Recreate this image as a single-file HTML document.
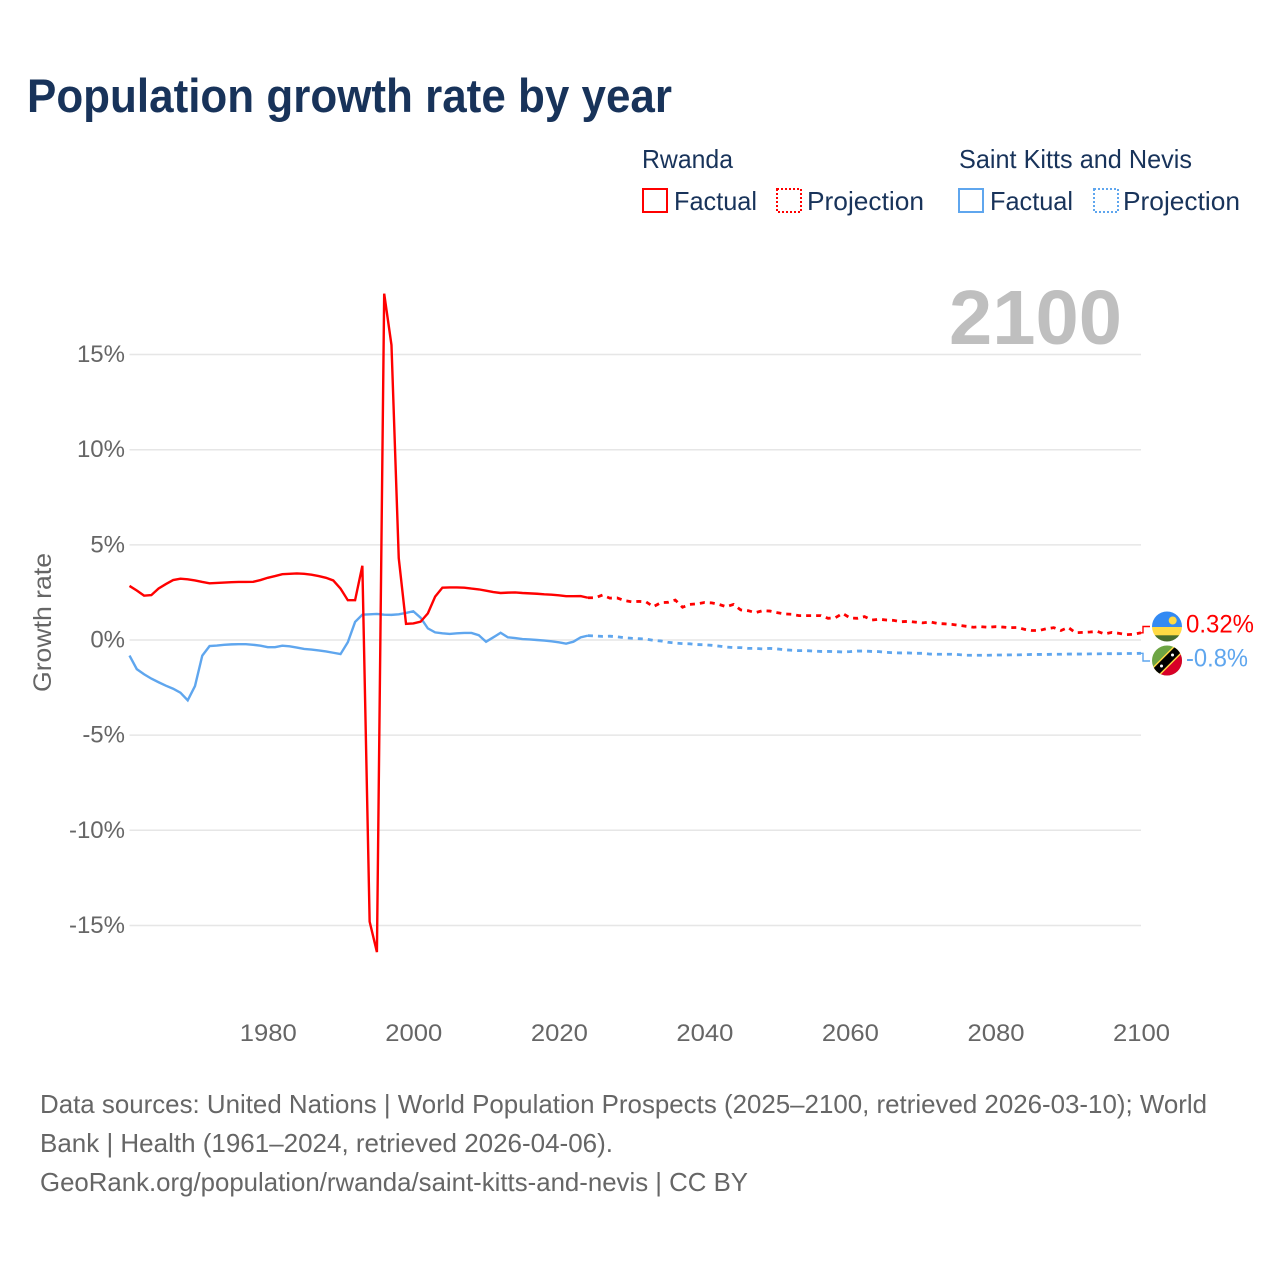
<!DOCTYPE html>
<html lang="en">
<head>
<meta charset="utf-8">
<title>Population growth rate by year</title>
<style>
html,body{margin:0;padding:0;background:#fff;}
svg{display:block;font-family:"Liberation Sans",sans-serif;}
</style>
</head>
<body>
<svg id="chart" xmlns="http://www.w3.org/2000/svg" width="1280" height="1280" viewBox="0 0 1280 1280">
  <rect width="1280" height="1280" fill="#fff"/>
  <text x="27" y="112" font-size="47" font-weight="700" fill="#18335a" textLength="645" lengthAdjust="spacingAndGlyphs">Population growth rate by year</text>

  <g font-size="26" fill="#18335a">
    <text x="642" y="168" textLength="91" lengthAdjust="spacingAndGlyphs">Rwanda</text>
    <text x="959" y="168" textLength="233" lengthAdjust="spacingAndGlyphs">Saint Kitts and Nevis</text>
    <rect x="643" y="189" width="24" height="23" fill="none" stroke="#ff0000" stroke-width="2"/>
    <text x="674" y="210" textLength="83" lengthAdjust="spacingAndGlyphs">Factual</text>
    <rect x="777" y="189" width="24" height="23" fill="none" stroke="#ff0000" stroke-width="2" stroke-dasharray="2 2"/>
    <text x="807" y="210" textLength="117" lengthAdjust="spacingAndGlyphs">Projection</text>
    <rect x="959" y="189" width="24" height="23" fill="none" stroke="#5fa6ee" stroke-width="2"/>
    <text x="990" y="210" textLength="83" lengthAdjust="spacingAndGlyphs">Factual</text>
    <rect x="1094" y="189" width="24" height="23" fill="none" stroke="#5fa6ee" stroke-width="2" stroke-dasharray="2 2"/>
    <text x="1123" y="210" textLength="117" lengthAdjust="spacingAndGlyphs">Projection</text>
  </g>

  <g id="grid"></g>
  <g id="yticks" font-size="24" fill="#666"></g>
  <g id="xticks" font-size="24" fill="#666"></g>
  <text transform="translate(51,692) rotate(-90)" font-size="25" fill="#666" textLength="139" lengthAdjust="spacingAndGlyphs">Growth rate</text>
  <text x="949" y="344" font-size="77" font-weight="700" fill="#bfbfbf" textLength="173" lengthAdjust="spacingAndGlyphs">2100</text>

  <g id="series"></g>

  <defs>
    <clipPath id="rw-clip"><circle cx="1167" cy="626.5" r="15"/></clipPath>
    <clipPath id="kn-clip"><circle cx="1167" cy="660.5" r="15"/></clipPath>
  </defs>
  <g clip-path="url(#rw-clip)">
    <rect x="1152" y="611" width="30" height="16.5" fill="#338af3"/>
    <rect x="1152" y="627" width="30" height="8.5" fill="#ffda44"/>
    <rect x="1152" y="635.3" width="30" height="7" fill="#496e2d"/>
    <circle cx="1172.7" cy="620.5" r="4" fill="#ffda44"/>
  </g>
  <g clip-path="url(#kn-clip)">
    <rect x="1152" y="645" width="30" height="31" fill="#6da544"/>
    <polygon points="1182,650 1182,676 1156,676" fill="#d80027"/>
    <line x1="1155" y1="672.5" x2="1179" y2="648.5" stroke="#ffda44" stroke-width="11"/>
    <line x1="1155" y1="672.5" x2="1179" y2="648.5" stroke="#000" stroke-width="8"/>
    <circle cx="1161.5" cy="666" r="1.5" fill="#fff"/>
    <circle cx="1172.5" cy="655" r="1.5" fill="#fff"/>
  </g>

  <g font-size="26" fill="#666">
    <text x="40" y="1113" textLength="1167" lengthAdjust="spacingAndGlyphs">Data sources: United Nations | World Population Prospects (2025–2100, retrieved 2026-03-10); World</text>
    <text x="40" y="1152" textLength="573" lengthAdjust="spacingAndGlyphs">Bank | Health (1961–2024, retrieved 2026-04-06).</text>
    <text x="40" y="1191" textLength="708" lengthAdjust="spacingAndGlyphs">GeoRank.org/population/rwanda/saint-kitts-and-nevis | CC BY</text>
  </g>
</svg>
<script>
var factualStartYear = 1961;
var projectionStartYear = 2024;
var rwandaFactual = [
  2.84,2.6,2.33,2.36,2.71,2.94,3.15,3.22,3.19,3.13,
  3.05,2.98,3.0,3.02,3.04,3.05,3.05,3.06,3.15,3.27,
  3.36,3.46,3.48,3.5,3.48,3.43,3.36,3.27,3.13,2.7,
  2.09,2.09,3.9,-14.8,-16.4,18.2,15.5,4.3,0.85,0.87,
  0.96,1.4,2.28,2.75,2.76,2.76,2.75,2.7,2.66,2.59,
  2.52,2.47,2.49,2.5,2.47,2.45,2.43,2.4,2.38,2.35,
  2.3,2.3,2.31,2.22
];
var rwandaProjection = [
  2.22,2.22,2.36,2.2,2.21,2.07,2.01,
  2.03,2.0,1.75,1.96,1.98,2.1,1.72,1.87,1.9,1.97,
  1.95,1.87,1.75,1.87,1.58,1.54,1.44,1.54,1.52,1.44,
  1.37,1.35,1.28,1.28,1.28,1.28,1.14,1.17,1.4,1.16,
  1.14,1.23,1.05,1.09,1.05,1.03,0.96,0.98,0.94,0.9,
  0.95,0.87,0.85,0.82,0.77,0.72,0.67,0.7,0.67,0.7,
  0.68,0.65,0.66,0.56,0.5,0.5,0.59,0.65,0.5,0.66,
  0.38,0.4,0.42,0.45,0.32,0.4,0.35,0.28,0.3,0.38
];
var sknFactual = [
  -0.82,-1.53,-1.8,-2.03,-2.22,-2.4,-2.56,-2.77,-3.17,-2.42,
  -0.82,-0.32,-0.29,-0.25,-0.23,-0.22,-0.22,-0.25,-0.3,-0.38,
  -0.38,-0.3,-0.33,-0.4,-0.47,-0.5,-0.55,-0.6,-0.67,-0.74,
  -0.12,0.95,1.33,1.35,1.37,1.33,1.32,1.35,1.42,1.51,
  1.17,0.61,0.4,0.35,0.32,0.35,0.37,0.37,0.25,-0.09,
  0.14,0.38,0.14,0.1,0.05,0.03,0,-0.03,-0.07,-0.12,
  -0.19,-0.09,0.14,0.23
];
var sknProjection = [
  0.23,0.21,0.19,0.2,0.17,0.12,0.09,
  0.07,0.05,-0.02,-0.05,-0.12,-0.16,-0.19,-0.2,-0.24,-0.25,
  -0.28,-0.32,-0.37,-0.4,-0.4,-0.44,-0.44,-0.47,-0.44,-0.47,
  -0.51,-0.54,-0.56,-0.56,-0.58,-0.6,-0.6,-0.61,-0.63,-0.61,
  -0.58,-0.58,-0.6,-0.61,-0.65,-0.67,-0.68,-0.68,-0.7,-0.7,
  -0.74,-0.75,-0.75,-0.75,-0.77,-0.8,-0.8,-0.8,-0.8,-0.79,
  -0.79,-0.78,-0.78,-0.77,-0.76,-0.76,-0.76,-0.75,-0.75,-0.74,
  -0.74,-0.74,-0.73,-0.73,-0.72,-0.72,-0.72,-0.71,-0.71,-0.7
];
var xTickYears = [1980,2000,2020,2040,2060,2080,2100];
var yTickValues = [15,10,5,0,-5,-10,-15];
var endLabels = ["0.32%","-0.8%"];

var NS = "http://www.w3.org/2000/svg";
function xScale(year){ return 129.5 + (year - 1961) * 7.277; }
function yScale(v){ return 640 - v * 19.03; }
function make(tag, parent){
  var el = document.createElementNS(NS, tag);
  parent.appendChild(el);
  return el;
}
function linePath(values, startYear){
  var d = "";
  for (var i = 0; i < values.length; i++){
    d += (i ? "L" : "M") + xScale(startYear + i).toFixed(2) + " " + yScale(values[i]).toFixed(2);
  }
  return d;
}
var gridG = document.getElementById("grid");
var yG = document.getElementById("yticks");
var xG = document.getElementById("xticks");
var seriesG = document.getElementById("series");
var chartSvg = document.getElementById("chart");

yTickValues.forEach(function(v){
  var line = make("line", gridG);
  
  
  line.setAttribute("x1", xScale(1961));
  line.setAttribute("x2", xScale(2100));
  line.setAttribute("y1", yScale(v));
  line.setAttribute("y2", yScale(v));
  line.setAttribute("stroke", "#e6e6e6");
  line.setAttribute("stroke-width", "1.5");
  var t = make("text", yG);
  
  
  t.setAttribute("x", 125);
  t.setAttribute("y", yScale(v) + 7.5);
  t.setAttribute("text-anchor", "end");
  t.textContent = v + "%";
});
xTickYears.forEach(function(y){
  var t = make("text", xG);
  
  
  t.setAttribute("x", xScale(y) + 0.5);
  t.setAttribute("y", 1041);
  t.setAttribute("text-anchor", "middle");
  t.setAttribute("textLength", "57");
  t.setAttribute("lengthAdjust", "spacingAndGlyphs");
  t.textContent = y;
});

function drawLine(values, startYear, color, dashed, name){
  var p = make("path", seriesG);
  
  
  p.setAttribute("d", linePath(values, startYear));
  p.setAttribute("fill", "none");
  p.setAttribute("stroke", color);
  p.setAttribute("stroke-width", dashed ? "2.8" : "2.4");
  if (dashed) p.setAttribute("stroke-dasharray", "5 5");
}
drawLine(rwandaProjection, projectionStartYear, "#ff0000", true, "rwanda-projection-line");
drawLine(sknProjection, projectionStartYear, "#5fa6ee", true, "skn-projection-line");
drawLine(sknFactual, factualStartYear, "#5fa6ee", false, "skn-factual-line");
drawLine(rwandaFactual, factualStartYear, "#ff0000", false, "rwanda-factual-line");

function endConnector(values, labelY, color, name){
  var p = make("path", seriesG);
  
  
  var ey = yScale(values[values.length - 1]);
  p.setAttribute("d", "M" + xScale(2100) + " " + ey + "H1143V" + labelY + "H1150");
  p.setAttribute("fill", "none");
  p.setAttribute("stroke", color);
  p.setAttribute("stroke-width", "1.4");
}
endConnector(rwandaProjection, 626.5, "#ff0000", "rwanda-end-connector");
endConnector(sknProjection, 661, "#5fa6ee", "skn-end-connector");

var endLabelRw = make("text", chartSvg);


endLabelRw.setAttribute("x", 1186);
endLabelRw.setAttribute("y", 632.5);
endLabelRw.setAttribute("font-size", "25");
endLabelRw.setAttribute("fill", "#ff0000");
endLabelRw.setAttribute("textLength", "68");
endLabelRw.setAttribute("lengthAdjust", "spacingAndGlyphs");
endLabelRw.textContent = endLabels[0];

var endLabelKn = make("text", chartSvg);


endLabelKn.setAttribute("x", 1186);
endLabelKn.setAttribute("y", 666.5);
endLabelKn.setAttribute("font-size", "25");
endLabelKn.setAttribute("fill", "#5fa6ee");
endLabelKn.setAttribute("textLength", "62");
endLabelKn.setAttribute("lengthAdjust", "spacingAndGlyphs");
endLabelKn.textContent = endLabels[1];
</script>
</body>
</html>
